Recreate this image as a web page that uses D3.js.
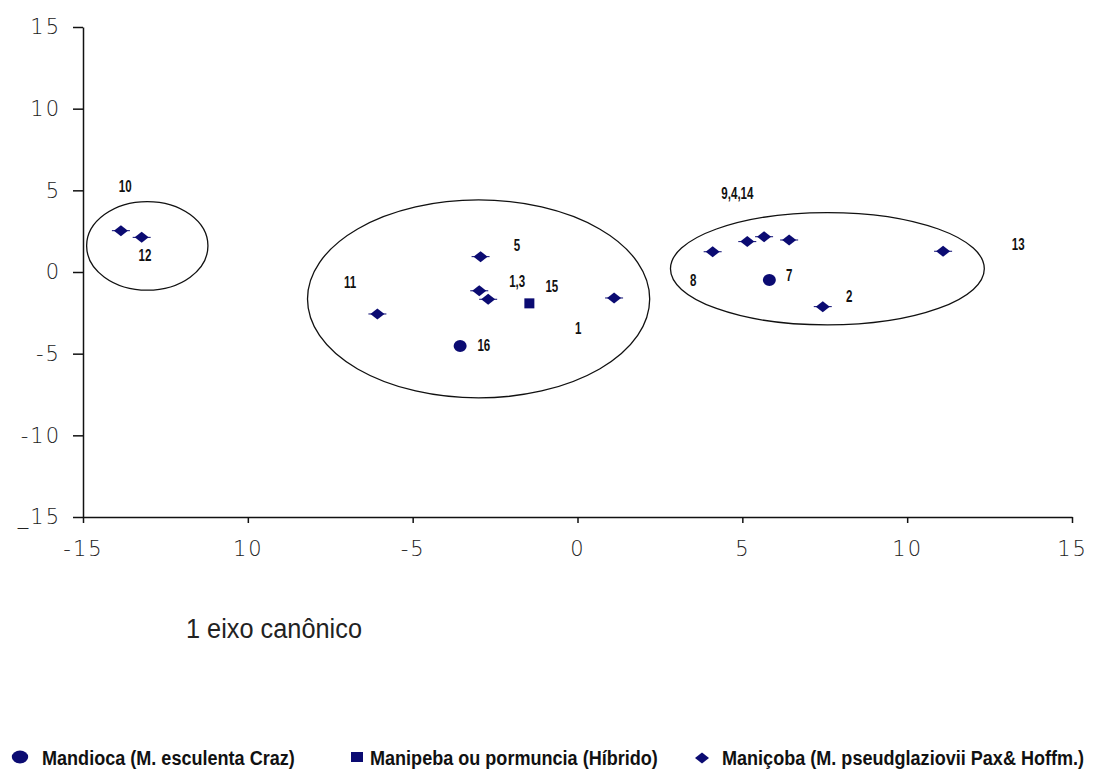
<!DOCTYPE html>
<html>
<head>
<meta charset="utf-8">
<script src="https://cdn.jsdelivr.net/npm/d3@7"></script>
<style>
  body { margin: 0; background: #fff; }
  svg { display: block; }
  .tick-label { font-family: "DejaVu Sans", sans-serif; font-size: 21px; font-weight: 200; letter-spacing: 2px; fill: #222; }
  .pt-label { font-family: "Liberation Sans", sans-serif; font-size: 16px; font-weight: bold; fill: #111; }
  .legend { font-family: "Liberation Sans", sans-serif; font-size: 21px; font-weight: bold; fill: #111; }
</style>
</head>
<body>
<script>
// axis ticks (labels as printed in the original figure)
var xTicks = [-15, -10, -5, 0, 5, 10, 15];
var xTickLabels = ["-15", "10", "-5", "0", "5", "10", "15"];
var yTicks = [-15, -10, -5, 0, 5, 10, 15];
var yTickLabels = ["_15", "-10", "-5", "0", "5", "10", "15"];

// series: [x, y]
var mandioca = [[-3.56, -4.53], [5.82, -0.49]];
var manipeba = [[-1.46, -1.92]];
var manicoba = [
  [-13.85, 2.53], [-13.22, 2.12],
  [-2.94, 0.94], [-2.98, -1.15], [-2.71, -1.67], [1.11, -1.59], [-6.07, -2.57],
  [4.10, 1.24], [5.15, 1.86], [5.66, 2.16], [6.42, 1.96], [7.44, -2.12], [11.09, 1.27]
];

// point labels: [text, x, y]
var pointLabels = [
  ["10", -13.72, 5.22], ["12", -13.12, 1.04],
  ["5", -1.84, 1.65], ["1,3", -1.83, -0.59], ["15", -0.78, -0.86], ["1", 0.02, -3.45],
  ["11", -6.90, -0.66], ["16", -2.84, -4.51],
  ["9,4,14", 4.85, 4.78], ["8", 3.51, -0.49], ["7", 6.42, -0.24], ["2", 8.24, -1.47], ["13", 13.37, 1.71]
];

// group ellipses: [cx, cy, rx, ry]
var groups = [[-13.05, 1.6, 1.84, 2.71], [-3.0, -1.65, 5.19, 6.06], [7.58, 0.2, 4.76, 3.44]];

var legendItems = ["Mandioca (M. esculenta Craz)", "Manipeba ou pormuncia (Híbrido)", "Maniçoba (M. pseudglaziovii Pax& Hoffm.)"];

var W = 1106, H = 780;
var navy = "#0b0b72";

var x = d3.scaleLinear().domain([-15, 15]).range([83, 1072]);
var y = d3.scaleLinear().domain([-15, 15]).range([517, 27]);

var svg = d3.select("body").append("svg").attr("width", W).attr("height", H);

// squeeze text horizontally to mimic the narrow font of the original
function condense(sel, k) {
  sel.each(function() {
    var w = this.getComputedTextLength();
    d3.select(this).attr("textLength", w * k).attr("lengthAdjust", "spacingAndGlyphs");
  });
}

// Y axis
var yAxis = svg.append("g")
    .attr("transform", "translate(" + x(-15) + ",0)")
    .call(d3.axisLeft(y).tickValues(yTicks).tickSize(10).tickSizeOuter(0)
      .tickFormat(function(d, i) { return yTickLabels[i]; }));
yAxis.select(".domain").attr("stroke", "#111").attr("stroke-width", 1.5);
yAxis.selectAll(".tick line").attr("stroke", "#111").attr("stroke-width", 1.5);
yAxis.selectAll(".tick text").attr("class", "tick-label").attr("x", -22).attr("font-size", null).attr("font-family", null);

// X axis
var xAxis = svg.append("g")
    .attr("transform", "translate(0," + y(-15) + ")")
    .call(d3.axisBottom(x).tickValues(xTicks).tickSize(6).tickSizeOuter(0)
      .tickFormat(function(d, i) { return xTickLabels[i]; }));
xAxis.select(".domain").attr("stroke", "#111").attr("stroke-width", 1.5);
xAxis.selectAll(".tick line").attr("stroke", "#111").attr("stroke-width", 1.5);
xAxis.selectAll(".tick text").attr("class", "tick-label").attr("y", 24).attr("font-size", null).attr("font-family", null);

// ellipses
svg.selectAll(".grp").data(groups).enter().append("ellipse")
    .attr("cx", function(d) { return x(d[0]); })
    .attr("cy", function(d) { return y(d[1]); })
    .attr("rx", function(d) { return x(d[2]) - x(0); })
    .attr("ry", function(d) { return y(0) - y(d[3]); })
    .attr("fill", "none").attr("stroke", "#111").attr("stroke-width", 1.3);

// marker shapes
var diamond = "M-7,0L0,-5.5L7,0L0,5.5Z";
function drawDiamond(g) {
  g.append("line").attr("x1", -9).attr("x2", 9).attr("stroke", navy).attr("stroke-width", 1);
  g.append("path").attr("d", diamond).attr("fill", navy);
}

svg.selectAll(".dia").data(manicoba).enter().append("g")
    .attr("transform", function(d) { return "translate(" + x(d[0]) + "," + y(d[1]) + ")"; })
    .each(function() { drawDiamond(d3.select(this)); });

svg.selectAll(".circ").data(mandioca).enter().append("ellipse")
    .attr("cx", function(d) { return x(d[0]); })
    .attr("cy", function(d) { return y(d[1]); })
    .attr("rx", 6.5).attr("ry", 6).attr("fill", navy);

svg.selectAll(".sq").data(manipeba).enter().append("rect")
    .attr("x", function(d) { return x(d[0]) - 5; })
    .attr("y", function(d) { return y(d[1]) - 5; })
    .attr("width", 10).attr("height", 10).attr("fill", navy);

// point labels
svg.selectAll(".pt-label").data(pointLabels).enter().append("text")
    .attr("class", "pt-label")
    .attr("x", function(d) { return x(d[1]); })
    .attr("y", function(d) { return y(d[2]); })
    .attr("text-anchor", "middle").attr("dominant-baseline", "central")
    .text(function(d) { return d[0]; })
    .call(condense, 0.72);

// axis title
svg.append("text")
    .attr("x", 186).attr("y", 638)
    .attr("font-family", "Liberation Sans, sans-serif")
    .attr("font-size", 27).attr("fill", "#222")
    .attr("textLength", 176).attr("lengthAdjust", "spacingAndGlyphs")
    .text("1 eixo canônico");

// legend
var legX = [20, 357, 702];
var legTextX = [42, 370, 722];
var ly = 757;
var leg = svg.append("g");
leg.append("path").attr("d", d3.symbol(d3.symbolCircle, 160)()).attr("transform", "translate(" + legX[0] + "," + ly + ") scale(1.15,0.9)").attr("fill", navy);
leg.append("rect").attr("x", legX[1] - 6).attr("y", ly - 5).attr("width", 12).attr("height", 10).attr("fill", navy);
leg.append("path").attr("d", diamond).attr("transform", "translate(" + legX[2] + "," + (ly + 1) + ")").attr("fill", navy);
leg.selectAll("text").data(legendItems).enter().append("text")
    .attr("class", "legend")
    .attr("transform", function(d, i) { return "translate(" + legTextX[i] + "," + ly + ") scale(0.86,1)"; })
    .attr("dominant-baseline", "central")
    .text(function(d) { return d; });
</script>
</body>
</html>
